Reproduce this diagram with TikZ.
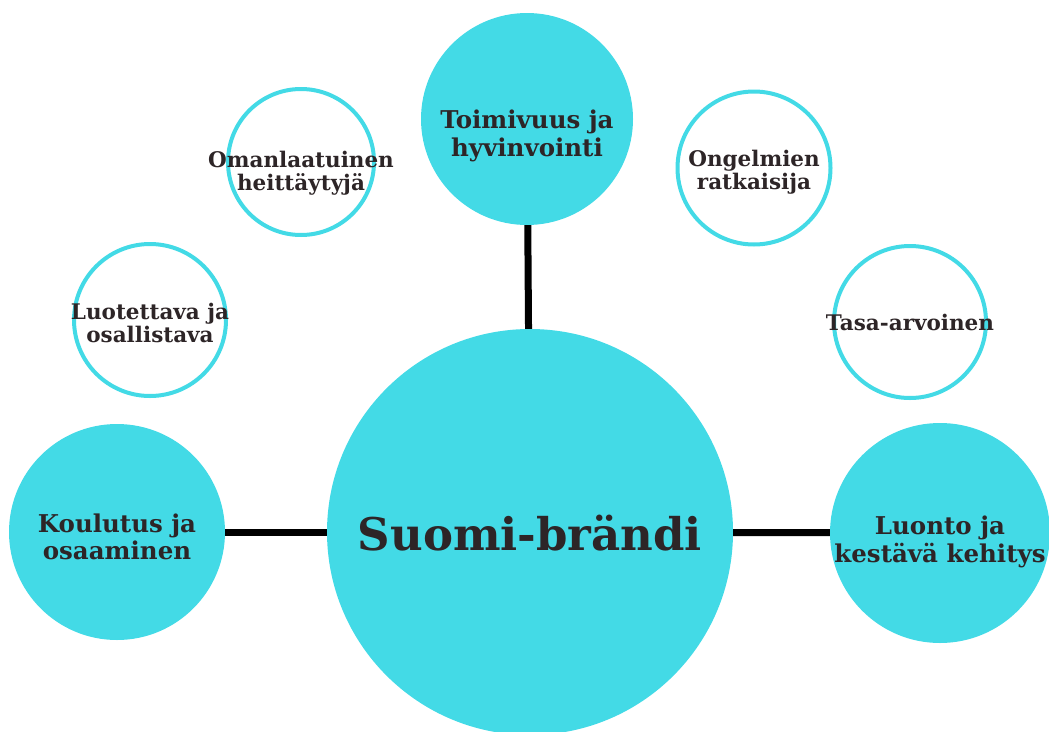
\documentclass[tikz,border=0pt]{standalone}
\usepackage{fontspec}
\setmainfont{DejaVu Serif}
\usepackage{xcolor}
\definecolor{bubbleCyan}{HTML}{43DAE6}
\definecolor{textDark}{HTML}{2D2527}
\tikzset{
    FillBubble/.style={circle, fill=bubbleCyan, inner sep=0pt},
    RingBubble/.style={circle, draw=bubbleCyan, line width=4pt, fill=white, inner sep=0pt},
    CenterText/.style={font=\fontsize{45}{54}\selectfont\bfseries, text=textDark, inner sep=0pt},
    BigText/.style={font=\fontsize{24.5}{27.5}\selectfont\bfseries, align=center, text=textDark, inner sep=0pt},
    SmallText/.style={font=\fontsize{21.5}{22.5}\selectfont\bfseries, align=center, text=textDark, inner sep=0pt},
    LinkLine/.style={line width=7pt, black}
}

\begin{document}
\begin{tikzpicture}[x=1pt, y=-1pt]
    \useasboundingbox (0,0) rectangle (1049,731);

    % keskus ja neljä täytettyä palloa
    \node[FillBubble, minimum size=406pt] (brand) at (530, 532) {};
    \node[FillBubble, minimum size=212pt] (wellbeing) at (527, 119) {};
    \node[FillBubble, minimum size=216pt] (education) at (117, 532) {};
    \node[FillBubble, minimum size=220pt] (nature) at (940, 533) {};

    % reunustetut pallot
    \node[RingBubble, minimum size=146pt] (daring) at (301, 162) {};
    \node[RingBubble, minimum size=152pt] (trusted) at (150, 320) {};
    \node[RingBubble, minimum size=153pt] (solver) at (754, 168) {};
    \node[RingBubble, minimum size=152pt] (equal) at (910, 322) {};

    % tekstit
    \node[CenterText] (brandText) at ([yshift=-1pt]brand.center) {Suomi-brändi};
    \node[BigText] (wellbeingText) at ([yshift=-17pt]wellbeing.center) {Toimivuus ja\\hyvinvointi};
    \node[BigText] (educationText) at ([yshift=-5pt]education.center) {Koulutus ja\\osaaminen};
    \node[BigText] (natureText) at ([yshift=-9pt]nature.center) {Luonto ja\\kestävä kehitys};
    \node[SmallText] (daringText) at ([yshift=-11pt]daring.center) {Omanlaatuinen\\heittäytyjä};
    \node[SmallText] (trustedText) at ([yshift=-3pt]trusted.center) {Luotettava ja\\osallistava};
    \node[SmallText] (solverText) at ([yshift=-4pt]solver.center) {Ongelmien\\ratkaisija};
    \node[SmallText] (equalText) at (equal.center) {Tasa-arvoinen};

    % yhdysviivat
    \draw[LinkLine] (wellbeing) -- (brand);
    \draw[LinkLine] (education) -- (brand);
    \draw[LinkLine] (brand) -- (nature);
\end{tikzpicture}
\end{document}
